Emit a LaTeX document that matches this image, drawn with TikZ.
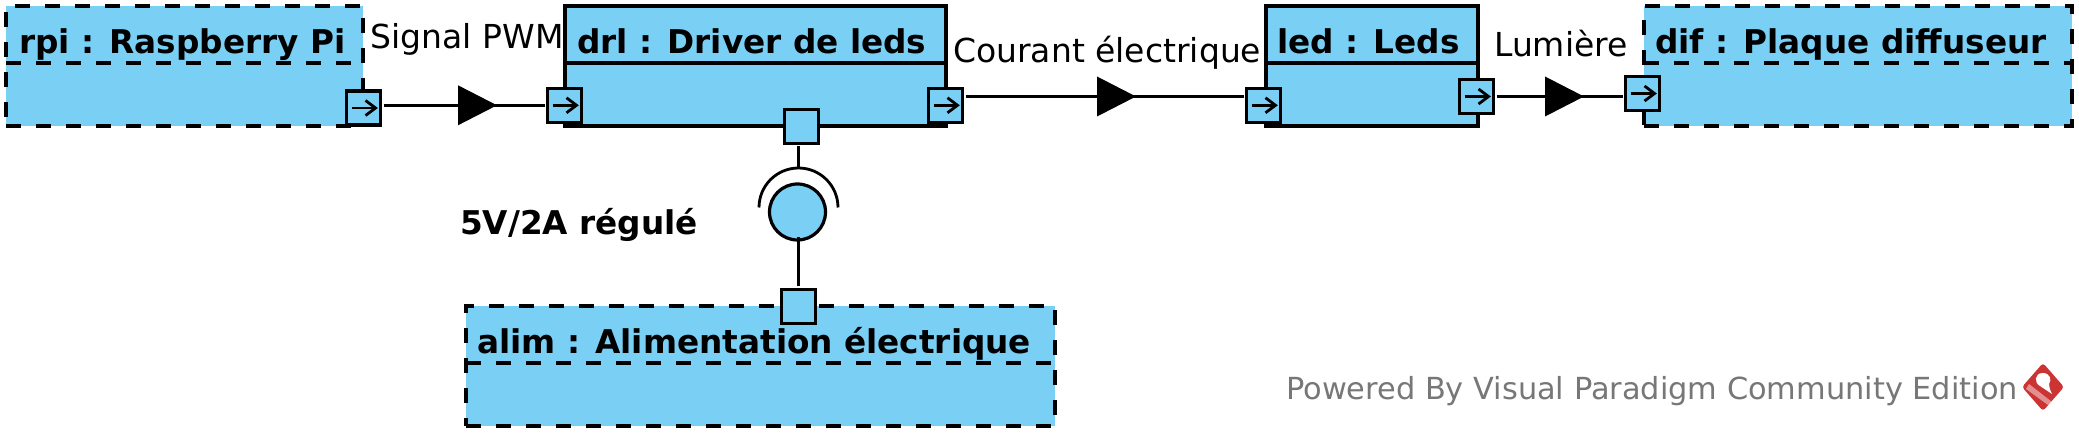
\documentclass[tikz,border=0pt]{standalone}
\usepackage{fontspec}
\setmainfont{DejaVu Sans}
\usetikzlibrary{calc}
\definecolor{blk}{HTML}{7ACFF5}
\definecolor{wm}{HTML}{777777}
\definecolor{vp}{HTML}{CC3333}
\tikzset{
  x=1pt,y=-1pt,
  block/.style={rectangle,draw=black,fill=blk,anchor=north west,inner sep=0pt,outer sep=0pt,line width=3.3pt},
  dashblock/.style={block,dash pattern=on 15pt off 15pt},
  divider/.style={line width=3.3pt},
  dashdivider/.style={line width=3.3pt,dash pattern=on 15pt off 15pt},
  port/.style={rectangle,draw=black,fill=blk,minimum width=34pt,minimum height=34pt,inner sep=0pt,outer sep=0pt,line width=3.3pt},
  title/.style={anchor=base west,inner sep=0pt,font=\fontsize{32.7}{36}\selectfont\bfseries},
  lab/.style={anchor=base west,inner sep=0pt,font=\fontsize{33}{36}\selectfont},
  conn/.style={line width=3.2pt},
}
\newcommand{\parrow}[1]{%
  \draw[line width=2.8pt] ($(#1)+(-12,0)$) -- ($(#1)+(12,0)$);
  \draw[line width=2.8pt] ($(#1)+(2,-7.5)$) -- ($(#1)+(12,0)$) -- ($(#1)+(2,7.5)$);
}
\newcommand{\tri}[1]{\fill ($(#1)+(0,-20)$) -- ($(#1)+(39,0)$) -- ($(#1)+(0,20)$) -- cycle;}
\begin{document}
\begin{tikzpicture}
\useasboundingbox (0,0) rectangle (2079,438);
% blocks
\node[dashblock,minimum width=357pt,minimum height=120pt] (rpi) at (6,6) {};
\draw[dashdivider] (rpi.west |- 0,63) -- (rpi.east |- 0,63);
\node[block,minimum width=381pt,minimum height=120pt] (drl) at (565,6) {};
\draw[divider] (drl.west |- 0,63) -- (drl.east |- 0,63);
\node[block,minimum width=212pt,minimum height=120pt] (led) at (1266,6) {};
\draw[divider] (led.west |- 0,63) -- (led.east |- 0,63);
\node[dashblock,minimum width=428pt,minimum height=120pt] (dif) at (1644,6) {};
\draw[dashdivider] (dif.west |- 0,63) -- (dif.east |- 0,63);
\node[dashblock,minimum width=589pt,minimum height=120pt] (alim) at (466,306) {};
\draw[dashdivider] (alim.west |- 0,363) -- (alim.east |- 0,363);
% titles
\node[title] (trpi) at (19,54) {rpi : Raspberry Pi};
\node[title] (tdrl) at (577,54) {drl : Driver de leds};
\node[title] (tled) at (1277,54) {led : Leds};
\node[title] (tdif) at (1655,54) {dif : Plaque diffuseur};
\node[title] (talim) at (477,353) {alim : Alimentation électrique};
% ports
\node[port] (rpiout) at (363.5,108) {};
\node[port] (drlin) at (564.5,105.3) {};
\node[port] (drlout) at (945.5,105.3) {};
\node[port] (ledin) at (1263.5,105.3) {};
\node[port] (ledout) at (1476.5,96.5) {};
\node[port] (difin) at (1642.5,93.5) {};
\node[port] (drlpow) at (801.5,126.5) {};
\node[port] (alimpow) at (798.5,306.4) {};
\parrow{rpiout}\parrow{drlin}\parrow{drlout}\parrow{ledin}\parrow{ledout}\parrow{difin}
% flows
\coordinate (t1) at (458,105.3);
\coordinate (t2) at (1097,96.5);
\coordinate (t3) at (1545,96.5);
\draw[conn,shorten <=3pt,shorten >=3pt] (rpiout.east |- drlin.west) -- (drlin.west);
\tri{t1}
\draw[conn,shorten <=3pt,shorten >=3pt] (drlout.east |- ledout.west) -- (ledin.west |- ledout.west);
\tri{t2}
\draw[conn,shorten <=3pt,shorten >=3pt] (ledout.east) -- (difin.west |- ledout.east);
\tri{t3}
% ball and socket
\node[circle,draw=black,fill=blk,line width=3.2pt,minimum size=56pt,inner sep=0pt,outer sep=0pt] (ball) at (797.5,212) {};
\coordinate (sock) at (798.5,168);
\draw[line width=2.8pt] (759,207.5) arc[start angle=180,end angle=0,x radius=39.5,y radius=-39.5];
\draw[conn,shorten <=3pt] (drlpow.south -| sock) -- (sock);
\draw[conn,shorten >=3pt] (ball.south -| sock) ++(0,-3) -- (alimpow.north -| sock);
% labels
\node[lab] (l1) at (370.5,49) {Signal PWM};
\node[lab] (l2) at (953,63) {Courant électrique};
\node[lab] (l3) at (1494,57) {Lumière};
\node[title] (l4) at (460,235) {5V/2A régulé};
\node[lab,text=wm,font=\fontsize{30.4}{36}\selectfont] (wmk) at (1286,399) {Powered By Visual Paradigm Community Edition};
% logo
\fill[vp,rounded corners=3pt] (2043,363) -- (2064,387) -- (2043,411) -- (2022,387) -- cycle;
\fill[white,opacity=.45] (2029,384) -- (2052,402) -- (2048,405) -- (2026,389) -- cycle;
\fill[white] (2043,373) .. controls (2034,373) and (2034,383) .. (2040,386) -- (2052,394) .. controls (2050,390) and (2049,387) .. (2049,384) .. controls (2052,380) and (2050,373) .. (2043,373) -- cycle;
\end{tikzpicture}
\end{document}
